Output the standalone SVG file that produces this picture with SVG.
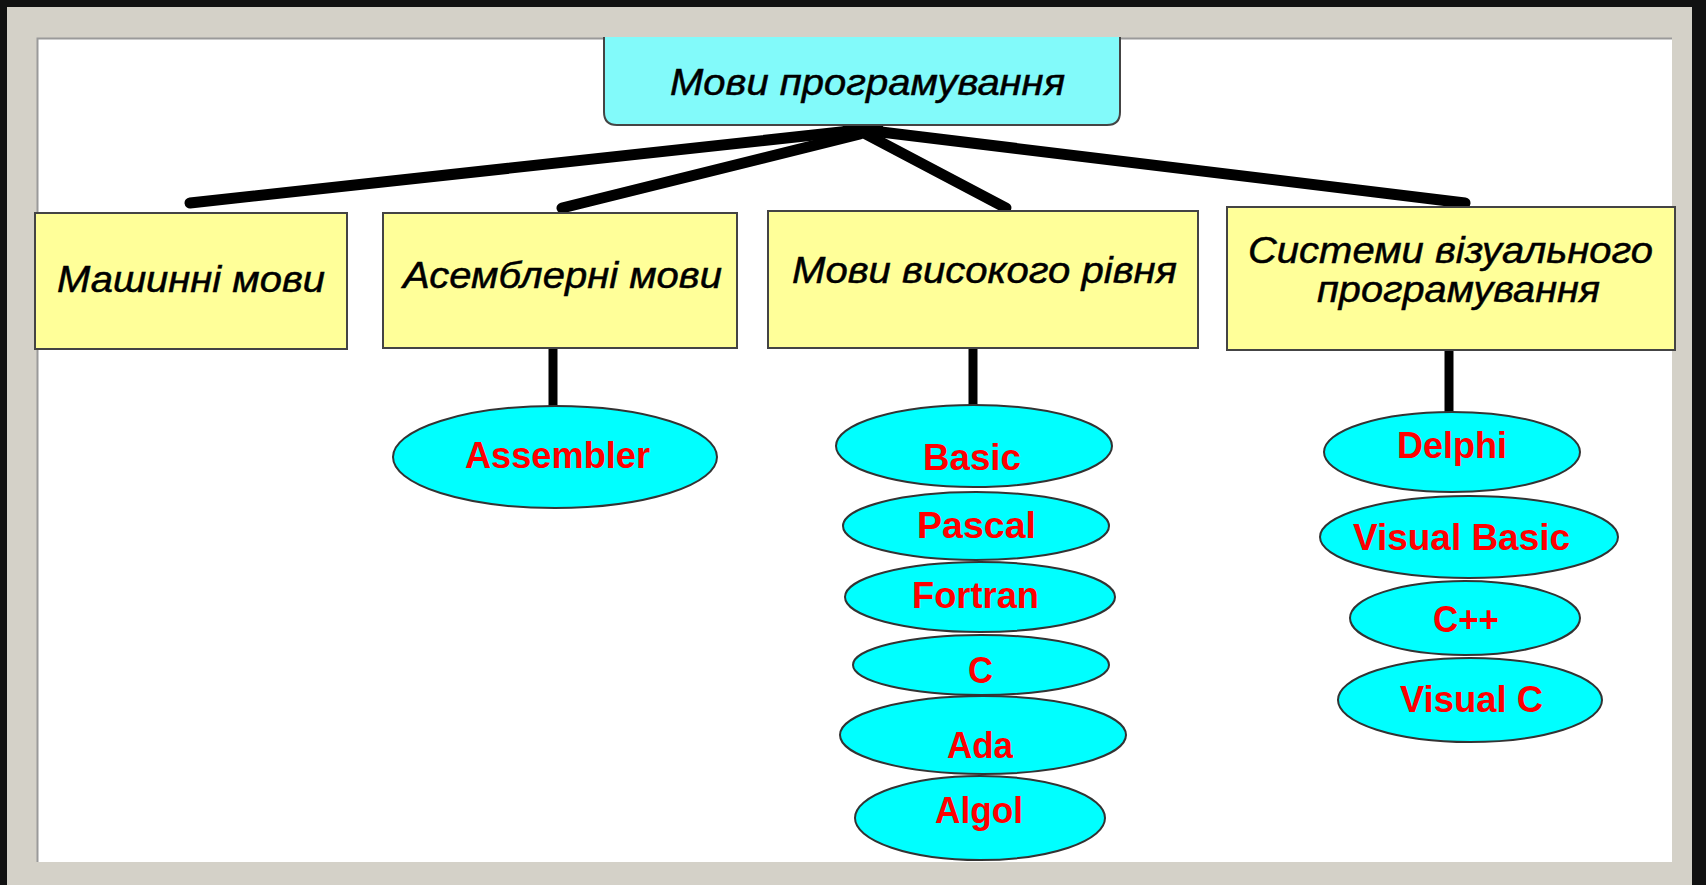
<svg xmlns="http://www.w3.org/2000/svg" width="1706" height="885" viewBox="0 0 1706 885">
  <style>
    .box { fill: #ffff99; stroke: #444; stroke-width: 2; }
    .top { fill: #82fafa; stroke: #444; stroke-width: 2; }
    .ell { fill: #00ffff; stroke: #333; stroke-width: 2; }
    .lbl { font-family: "Liberation Sans", Arial, sans-serif; font-style: italic; font-size: 37px; fill: #000; stroke: #000; stroke-width: 0.5; }
    .lang { font-family: "Liberation Sans", Arial, sans-serif; font-weight: bold; font-size: 36px; fill: #ff0000; }
    .conn { stroke: #000; stroke-width: 11; stroke-linecap: round; fill: none; }
    .vconn { stroke: #000; stroke-width: 9; stroke-linecap: butt; fill: none; }
  </style>
  <!-- frame -->
  <rect x="0" y="0" width="1706" height="885" fill="#111"/>
  <rect x="7" y="7" width="1685" height="878" fill="#d4d1c8"/>
  <rect x="37" y="38" width="1635" height="824" fill="#ffffff"/>
  <path d="M37.5,862 V38.5 H1672" fill="none" stroke="#9a9a9a" stroke-width="2"/>

  <g id="connectors">
    <line class="conn" x1="878" y1="128" x2="190" y2="203"/>
    <line class="conn" x1="860" y1="134" x2="562" y2="208"/>
    <line class="conn" x1="860" y1="131" x2="1006" y2="208"/>
    <line class="conn" x1="848" y1="128" x2="1465" y2="203"/>
    <line class="vconn" x1="553" y1="349" x2="553" y2="406"/>
    <line class="vconn" x1="973" y1="347" x2="973" y2="406"/>
    <line class="vconn" x1="1449" y1="347" x2="1449" y2="413"/>
  </g>

  <g id="node-root">
    <path class="top" d="M604,37 V112 Q604,125 617,125 H1107 Q1120,125 1120,112 V37"/>
    <text class="lbl" x="670" y="95" font-size="35" textLength="395" lengthAdjust="spacingAndGlyphs">Мови програмування</text>
  </g>

  <g id="node-machine">
    <rect class="box" x="35" y="213" width="312" height="136"/>
    <text class="lbl" x="57" y="292" textLength="268" lengthAdjust="spacingAndGlyphs">Машинні мови</text>
  </g>
  <g id="node-asm">
    <rect class="box" x="383" y="213" width="354" height="135"/>
    <text class="lbl" x="403" y="288" textLength="319" lengthAdjust="spacingAndGlyphs">Асемблерні мови</text>
  </g>
  <g id="node-high">
    <rect class="box" x="768" y="211" width="430" height="137"/>
    <text class="lbl" x="792" y="283" textLength="385" lengthAdjust="spacingAndGlyphs">Мови високого рівня</text>
  </g>
  <g id="node-visual">
    <rect class="box" x="1227" y="207" width="448" height="143"/>
    <text class="lbl" x="1248" y="263" textLength="405" lengthAdjust="spacingAndGlyphs">Системи візуального</text>
    <text class="lbl" x="1317" y="302" textLength="283" lengthAdjust="spacingAndGlyphs">програмування</text>
  </g>

  <g id="node-assembler">
    <ellipse class="ell" cx="555" cy="457" rx="162" ry="51"/>
    <text class="lang" x="465" y="468" textLength="185" lengthAdjust="spacingAndGlyphs">Assembler</text>
  </g>

  <g id="node-basic">
    <ellipse class="ell" cx="974" cy="446" rx="138" ry="41"/>
    <text class="lang" x="923" y="470" textLength="98" lengthAdjust="spacingAndGlyphs">Basic</text>
  </g>
  <g id="node-pascal">
    <ellipse class="ell" cx="976" cy="526" rx="133" ry="34"/>
    <text class="lang" x="917" y="538" textLength="119" lengthAdjust="spacingAndGlyphs">Pascal</text>
  </g>
  <g id="node-fortran">
    <ellipse class="ell" cx="980" cy="597" rx="135" ry="35"/>
    <text class="lang" x="912" y="608" textLength="127" lengthAdjust="spacingAndGlyphs">Fortran</text>
  </g>
  <g id="node-c">
    <ellipse class="ell" cx="981" cy="665" rx="128" ry="30"/>
    <text class="lang" x="968" y="683" textLength="25" lengthAdjust="spacingAndGlyphs">C</text>
  </g>
  <g id="node-ada">
    <ellipse class="ell" cx="983" cy="735" rx="143" ry="39"/>
    <text class="lang" x="947" y="758" textLength="66" lengthAdjust="spacingAndGlyphs">Ada</text>
  </g>
  <g id="node-algol">
    <ellipse class="ell" cx="980" cy="818" rx="125" ry="42"/>
    <text class="lang" x="935" y="823" textLength="88" lengthAdjust="spacingAndGlyphs">Algol</text>
  </g>

  <g id="node-delphi">
    <ellipse class="ell" cx="1452" cy="452" rx="128" ry="40"/>
    <text class="lang" x="1397" y="458" textLength="110" lengthAdjust="spacingAndGlyphs">Delphi</text>
  </g>
  <g id="node-vbasic">
    <ellipse class="ell" cx="1469" cy="537" rx="149" ry="41"/>
    <text class="lang" x="1353" y="550" textLength="217" lengthAdjust="spacingAndGlyphs">Visual Basic</text>
  </g>
  <g id="node-cpp">
    <ellipse class="ell" cx="1465" cy="618" rx="115" ry="37"/>
    <text class="lang" x="1433" y="632" textLength="66" lengthAdjust="spacingAndGlyphs">C++</text>
  </g>
  <g id="node-visualc">
    <ellipse class="ell" cx="1470" cy="700" rx="132" ry="42"/>
    <text class="lang" x="1400" y="712" textLength="143" lengthAdjust="spacingAndGlyphs">Visual C</text>
  </g>
</svg>
